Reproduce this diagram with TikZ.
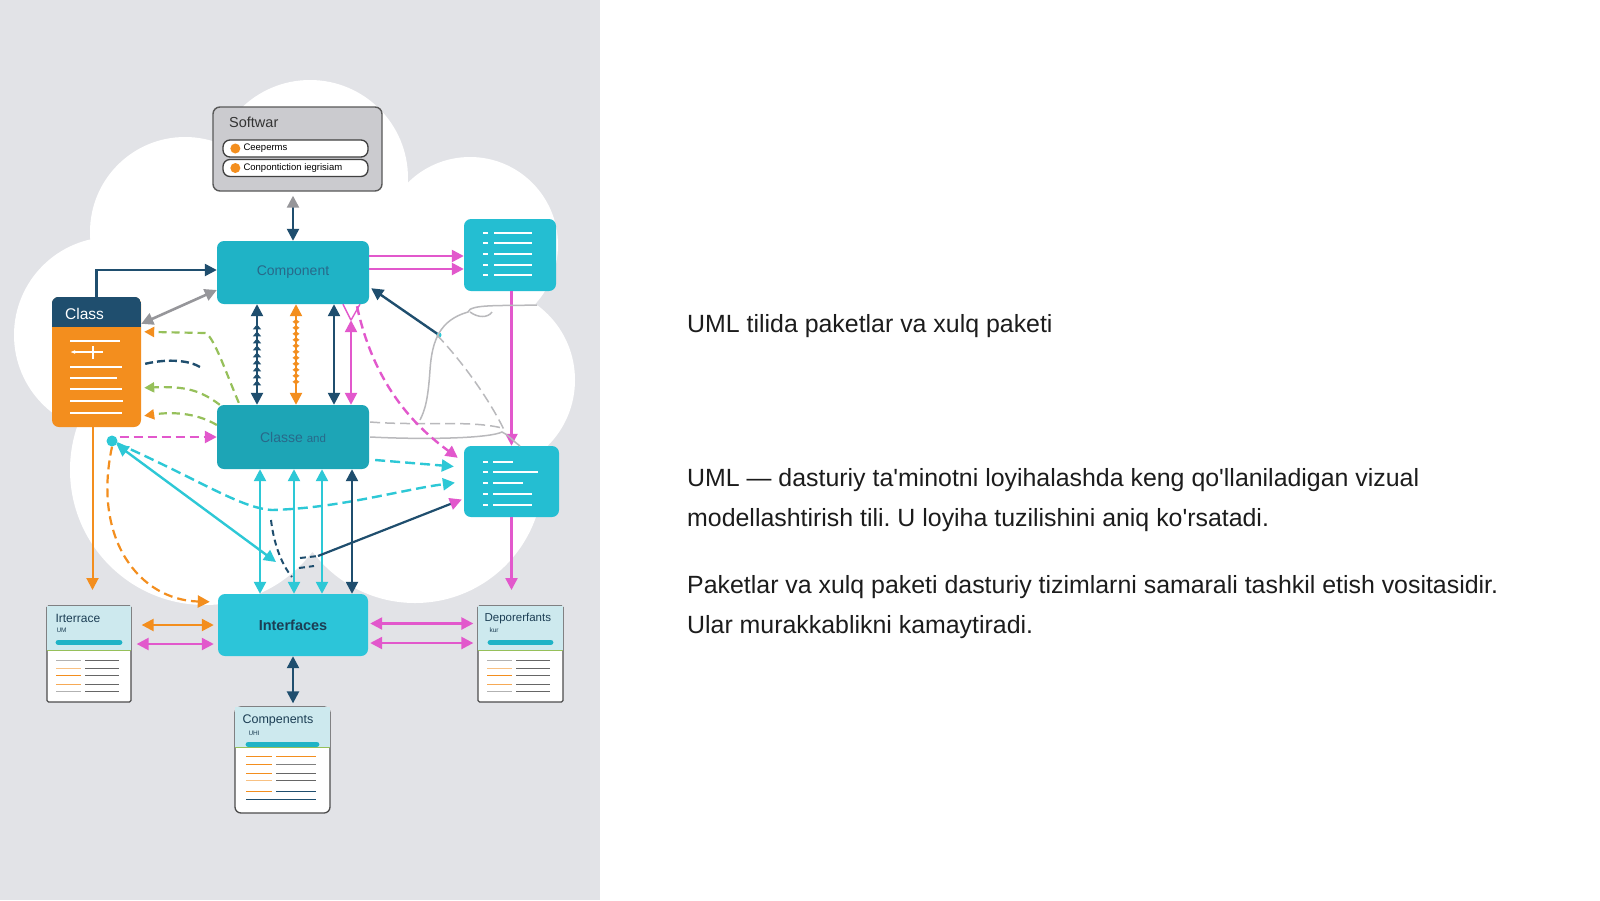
\documentclass[tikz,border=0pt]{standalone}
\usepackage{fontspec}
\setmainfont{Liberation Sans}
\usetikzlibrary{positioning, shapes, arrows.meta, calc, decorations.markings}
\definecolor{panelgray}{RGB}{226,227,231}
\definecolor{softgray}{RGB}{203,203,207}
\definecolor{myteal}{RGB}{31,179,198}
\definecolor{mylight}{RGB}{44,197,217}
\definecolor{noteteal}{RGB}{36,190,210}
\definecolor{mydark}{RGB}{31,78,110}
\definecolor{comptxt}{RGB}{40,105,138}
\definecolor{inttxt}{RGB}{28,62,84}
\definecolor{mymag}{RGB}{226,88,204}
\definecolor{myorange}{RGB}{243,142,30}
\definecolor{mygreen}{RGB}{150,192,90}
\definecolor{mycyan}{RGB}{45,200,214}
\definecolor{mygray}{RGB}{150,150,154}
\definecolor{lightgray}{RGB}{185,185,188}
\definecolor{headblue}{RGB}{205,233,238}
\definecolor{bodytxt}{RGB}{28,28,28}
\tikzset{
  tealbox/.style={draw=none, rounded corners=7, fill=myteal, minimum width=152,
    minimum height=63, text=comptxt, font=\fontsize{14}{16}\selectfont},
  notebox/.style={draw=none, rounded corners=7, fill=noteteal},
  docbox/.style={draw=black!70, line width=1.3, fill=white, rounded corners=1.5},
  pill/.style={draw=black!75, line width=1.3, fill=white, rounded corners=7,
    minimum width=145, minimum height=17},
  lbl/.style={inner sep=0, anchor=west},
  dk/.style={color=mydark, line width=2.4},
  mg/.style={color=mymag, line width=2.4},
  cy/.style={color=mycyan, line width=2.4},
  gdash/.style={color=mygreen, line width=2.2, dash pattern=on 8pt off 5pt},
  bodytext/.style={inner sep=0, anchor=base west, text=bodytxt,
    font=\fontsize{24.9}{30}\selectfont}
}

\begin{document}
\frenchspacing
\begin{tikzpicture}[x=1pt, y=-1pt, >={Triangle[length=12pt,width=12pt]}]

\useasboundingbox (0,0) rectangle (1600,900);
\fill[white] (0,0) rectangle (1600,900);
\fill[panelgray] (0,0) rectangle (600,900);

% cloud
\fill[white] (310,178) circle[radius=98pt] (185,232) circle[radius=95pt]
  (112,335) circle[radius=98pt] (470,245) circle[radius=88pt]
  (482,380) circle[radius=93pt] (205,470) circle[radius=135pt]
  (415,475) circle[radius=128pt] (300,350) circle[radius=190pt];

% software package
\node[draw=black!65, line width=1.4, fill=softgray, rounded corners=7,
  minimum width=169, minimum height=84] (soft) at (297.5,149) {};
\node[lbl, font=\fontsize{14.5}{16}\selectfont, text=black!80] (softt) at (229,122) {Softwar};
\node[pill] (pill1) at (295.5,148.5) {};
\node[pill] (pill2) at (295.5,168) {};
\fill[myorange] ($(pill1.west)+(13,0)$) circle[radius=5pt] ($(pill2.west)+(13,0)$) circle[radius=5pt];
\node[lbl, font=\fontsize{9.5}{10}\selectfont] (pill1t) at ($(pill1.west)+(21,0)$) {Ceeperms};
\node[lbl, font=\fontsize{9.5}{10}\selectfont] (pill2t) at ($(pill2.west)+(21,0)$) {Conpontiction iegrisiam};

% main boxes
\node[tealbox] (comp) at (293,272.5) {Component};
\node[tealbox, fill=myteal!92!black, minimum height=64] (classe) at (293,437)
  {Classe {\fontsize{11.5}{13}\selectfont and}};
\node[tealbox, fill=mylight, minimum width=150, minimum height=62, text=inttxt,
  font=\fontsize{14.5}{16}\selectfont\bfseries] (intf) at (293,625) {Interfaces};

% note boxes
\node[notebox, minimum width=92, minimum height=72] (rtop) at (510,255) {};
\node[notebox, minimum width=95, minimum height=71] (rmid) at (511.5,481.5) {};
\foreach \y in {233,243,254,265,275}
  \draw[white, line width=1.8] (483,\y) -- (488,\y) (494,\y) -- (532,\y);
\foreach \y/\e in {462/513, 472/538, 483/523, 494/532, 505/532}
  \draw[white, line width=1.8] (483,\y) -- (488,\y) (493,\y) -- (\e,\y);

% class
\node[fill=myorange, rounded corners=7, minimum width=89, minimum height=130] (cls) at (96.5,362) {};
\begin{scope}
\clip[rounded corners=7] (cls.north west) rectangle (cls.south east);
\fill[mydark] (cls.north west) rectangle ($(cls.north east)+(0,30)$);
\end{scope}
\node[lbl, text=white, font=\fontsize{15.5}{17}\selectfont] (clst) at (65,314) {Class};
\foreach \y/\w in {341/50, 367/52, 378/47, 389/52, 401/53, 413/52}
  \draw[white, line width=2.2] (70,\y) -- ++(\w,0);
\draw[white, line width=2.2, {Latex[length=5pt]}-] (70,352) -- (103,352);
\draw[white, line width=2.2] (93,346) -- (93,359);

% interface doc
\node[docbox, minimum width=84, minimum height=96] (docL) at (89,654) {};
\fill[headblue] ($(docL.north west)+(0.7,0.7)$) rectangle ($(docL.north east)+(-0.7,45)$);
\draw[mygreen, line width=1.2] ($(docL.north west)+(0.7,45)$) -- ($(docL.north east)+(-0.7,45)$);
\draw[myteal, line width=5.5, line cap=round] ($(docL.north west)+(12,37)$) -- ($(docL.north east)+(-12,37)$);
\node[lbl, text=inttxt, font=\fontsize{12}{14}\selectfont] (docLt) at ($(docL.north west)+(9,13)$) {Irterrace};
\node[lbl, text=inttxt, font=\fontsize{6.5}{7}\selectfont] (docLs) at ($(docL.north west)+(10,25)$) {UM};
\foreach \y/\c in {55/black!30, 63/myorange!55, 70/myorange, 79/myorange!75, 86/black!30} {
  \draw[\c, line width=1.7] ($(docL.north west)+(10,\y)$) -- ++(25,0);
  \draw[black!60, line width=1.7] ($(docL.north west)+(39,\y)$) -- ++(34,0);
}

% dependents doc
\node[docbox, minimum width=85, minimum height=96] (docR) at (520.5,654) {};
\fill[headblue] ($(docR.north west)+(0.7,0.7)$) rectangle ($(docR.north east)+(-0.7,45)$);
\draw[mygreen, line width=1.2] ($(docR.north west)+(0.7,45)$) -- ($(docR.north east)+(-0.7,45)$);
\draw[myteal, line width=5.5, line cap=round] ($(docR.north west)+(13,37)$) -- ($(docR.north east)+(-13,37)$);
\node[lbl, text=inttxt, font=\fontsize{11.5}{13}\selectfont] (docRt) at ($(docR.north west)+(7,13)$) {Deporerfants};
\node[lbl, text=inttxt, font=\fontsize{6.5}{7}\selectfont] (docRs) at ($(docR.north west)+(12,25)$) {kur};
\foreach \y/\c in {55/black!30, 63/myorange!55, 70/myorange, 79/myorange!75, 86/black!30} {
  \draw[\c, line width=1.7] ($(docR.north west)+(10,\y)$) -- ++(25,0);
  \draw[black!60, line width=1.7] ($(docR.north west)+(39,\y)$) -- ++(34,0);
}

% components doc
\node[docbox, rounded corners=6, minimum width=95, minimum height=106] (docB) at (282.5,760) {};
\fill[headblue] ($(docB.north west)+(0.7,0.7)$) rectangle ($(docB.north east)+(-0.7,41)$);
\draw[mygreen, line width=1.2] ($(docB.north west)+(0.7,41)$) -- ($(docB.north east)+(-0.7,41)$);
\draw[myteal, line width=5.5, line cap=round] ($(docB.north west)+(14,38)$) -- ($(docB.north east)+(-14,38)$);
\node[lbl, text=inttxt, font=\fontsize{12.5}{14}\selectfont] (docBt) at ($(docB.north west)+(8,14)$) {Compenents};
\node[lbl, text=inttxt, font=\fontsize{6.5}{7}\selectfont] (docBs) at ($(docB.north west)+(14,27)$) {UHI};
\foreach \y/\c/\d in {50/myorange/myorange, 58/myorange/black!50, 67/myorange/black!60,
    74/myorange!55/black!60, 85/myorange/mydark} {
  \draw[\c, line width=1.7] ($(docB.north west)+(12,\y)$) -- ++(26,0);
  \draw[\d, line width=1.7] ($(docB.north west)+(42,\y)$) -- ++(40,0);
}
\draw[mydark, line width=1.7] ($(docB.north west)+(12,93)$) -- ++(70,0);

% connectors, top part
\draw[dk, {Triangle[length=12pt,width=12pt,color=mygray]}->] ($(comp.north |- soft.south)+(0,4)$) -- (comp.north);
\draw[dk, ->] (cls.north) |- ($(comp.west)+(0,-2.5)$);
\draw[mygray, line width=2.6, <->] ($(cls.north east)+(0,27)$) -- ($(comp.west)+(0,17.5)$);
\draw[mg, ->] ($(comp.east)+(0,-16.5)$) -- ($(comp.east -| rtop.west)+(0,-16.5)$);
\draw[mg, ->] ($(comp.east)+(0,-3.5)$) -- ($(comp.east -| rtop.west)+(0,-3.5)$);
\draw[mg, ->] (rmid.north |- rtop.south) -- (rmid.north);
\coordinate (dR) at (511.5,590);
\draw[mg, ->] (rmid.south) -- (dR);
\coordinate (kn) at (439,335);
\draw[dk, ->] (kn) -- ($(comp.south east)+(2,-16)$);
\fill[mycyan] (kn) circle[radius=2.5pt];

% grey sketch lines
\draw[lightgray, line width=1.5] (537,305) .. controls (500,306) and (470,304) .. (468,312)
  .. controls (440,320) and (432,340) .. (430,370) .. controls (428,400) and (425,410) .. (420,420);
\draw[lightgray, line width=1.5] (470,312) .. controls (478,318) and (488,318) .. (492,312);
\draw[lightgray, line width=1.5, dash pattern=on 10pt off 5pt] (437,335) .. controls (470,370) and (495,410) .. (505,432);
\draw[lightgray, line width=1.5, dash pattern=on 10pt off 5pt] ($(classe.east)+(1,-15)$) .. controls (420,426) and (470,420) .. (502,428);
\draw[lightgray, line width=1.5] ($(classe.east)+(1,0)$) .. controls (430,440) and (490,438) .. (502,432)
  .. controls (510,436) and (514,442) .. (520,446);

% component to classe
\draw[dk, <->, postaction={decorate}, decoration={markings,
  mark=between positions 0.2 and 0.8 step 7pt with {\arrowreversed{Triangle[length=5pt,width=8pt]}}}]
  ($(comp.south)+(-36,0)$) -- ($(classe.north)+(-36,0)$);
\draw[color=myorange, line width=2.4, <->, postaction={decorate}, decoration={markings,
  mark=between positions 0.2 and 0.8 step 6pt with {\arrow{Diamond[length=5pt,width=7pt]}}}]
  ($(comp.south)+(3,0)$) -- ($(classe.north)+(3,0)$);
\draw[dk, <->] ($(comp.south)+(41,0)$) -- ($(classe.north)+(41,0)$);
\coordinate (mtop) at ($(comp.south)+(58,16)$);
\draw[mg, <->] (mtop) -- (mtop |- classe.north);
\draw[mymag, line width=1.4] ($(comp.south)+(50,0)$) -- (mtop) ($(comp.south)+(67,0)$) -- (mtop);
\draw[mg, dash pattern=on 9pt off 5pt, ->] ($(comp.south)+(64,2)$) .. controls (375,390) and (420,430) .. ($(rmid.north west)+(-6,12)$);

% class side
\draw[gdash, -{Triangle[length=10pt,width=10pt,color=myorange]}] ($(classe.north west)+(22,-2)$)
  .. controls (225,370) and (215,340) .. (206,333) -- ($(cls.north east)+(3,35)$);
\draw[gdash, -{Triangle[length=10pt,width=10pt]}] ($(classe.north west)+(3,0)$)
  .. controls (200,390) and (185,386) .. ($(cls.north east)+(3,91)$);
\draw[gdash, -{Triangle[length=10pt,width=10pt,color=myorange]}] ($(classe.west)+(0,-12)$)
  .. controls (195,412) and (170,412) .. ($(cls.north east)+(3,119)$);
\draw[mydark, line width=2.4, dash pattern=on 8pt off 4pt] ($(cls.north east)+(4,67)$)
  .. controls (170,358) and (190,361) .. (200,367);

\node[circle, fill=mycyan, inner sep=0, minimum size=11] (dot) at (112,441) {};
\draw[mg, dash pattern=on 9pt off 5pt, ->] ($(dot.east)+(2,-4)$) -- (classe.west);
\coordinate (cy1) at (276,562);
\draw[cy, <->] (dot) -- (cy1);
\draw[cy, dash pattern=on 10pt off 5pt, ->, shorten >=9pt] (dot) .. controls (200,480) and (240,508) .. (272,510)
  .. controls (340,508) and (400,490) .. (rmid.west);
\draw[cy, dash pattern=on 10pt off 5pt, ->] ($(classe.east)+(6,23)$) -- ($(rmid.west)+(-10,-15)$);
\draw[myorange, line width=2.2, dash pattern=on 9pt off 5pt, ->] (dot.south)
  .. controls (92,540) and (140,600) .. ($(intf.north west)+(-8,8)$);
\coordinate (oL) at (92.5,590);
\draw[myorange, line width=2, ->] (cls.south -| oL) -- (oL);

% classe to interfaces
\draw[cy, <->] ($(classe.south)+(-33,0)$) -- ($(intf.north)+(-33,0)$);
\draw[cy, <->] ($(classe.south)+(1,0)$) -- ($(intf.north)+(1,0)$);
\draw[cy, <->] ($(classe.south)+(29,0)$) -- ($(intf.north)+(29,0)$);
\draw[dk, <->] ($(classe.south)+(59,0)$) -- ($(intf.north)+(59,0)$);
\coordinate (dk2) at (318,556);
\draw[mydark, line width=2.2, -{Triangle[length=12pt,width=12pt,color=mymag]}] (dk2) -- ($(rmid.west)+(-2,18)$);
\draw[mydark, line width=2, dash pattern=on 6pt off 4pt] (271,520) .. controls (274,545) and (282,565) .. (292,577);
\draw[mydark, line width=2, dash pattern=on 6pt off 4pt] (299,568) -- (314,566) (300,558) -- (dk2);

% interfaces to docs
\draw[myorange, line width=2.4, <->] ($(docL.east |- intf.west)+(10,0)$) -- ($(intf.west)+(-4,0)$);
\draw[mg, <->] ($(docL.east |- intf.west)+(5,19)$) -- ($(intf.west)+(-4,19)$);
\draw[mg, <->] ($(intf.east)+(2,-1.5)$) -- ($(docR.west |- intf.east)+(-4,-1.5)$);
\draw[mg, <->] ($(intf.east)+(2,18)$) -- ($(docR.west |- intf.east)+(-4,18)$);
\draw[dk, <->, shorten >=3pt] (intf.south) -- (intf.south |- docB.north);

% text on the right
\node[bodytext] (ttl) at (687,332) {UML tilida paketlar va xulq paketi};
\node[bodytext] (p1a) at (687,486) {UML — dasturiy ta\textquotesingle minotni loyihalashda keng qo\textquotesingle llaniladigan vizual};
\node[bodytext] (p1b) at (687,526) {modellashtirish tili. U loyiha tuzilishini aniq ko\textquotesingle rsatadi.};
\node[bodytext] (p2a) at (687,593) {Paketlar va xulq paketi dasturiy tizimlarni samarali tashkil etish vositasidir.};
\node[bodytext] (p2b) at (687,633) {Ular murakkablikni kamaytiradi.};

\end{tikzpicture}
\end{document}
